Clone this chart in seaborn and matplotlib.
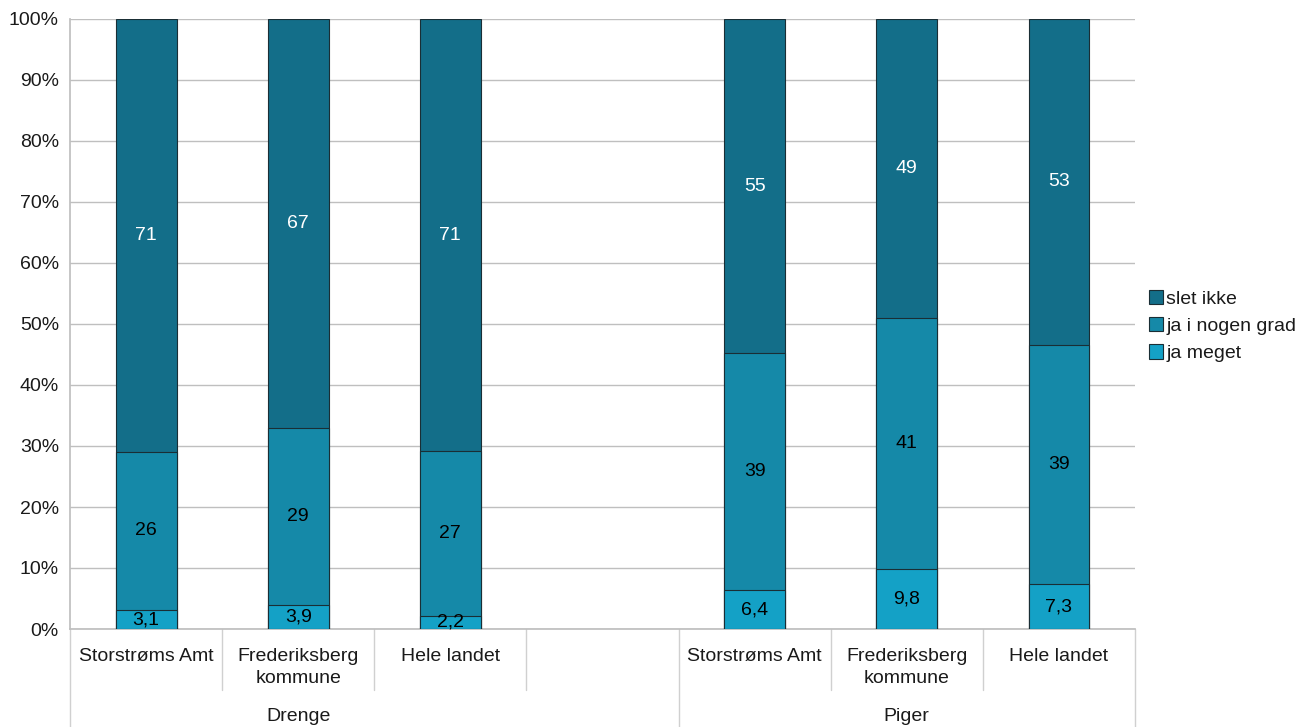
import matplotlib
matplotlib.use("Agg")
import matplotlib.pyplot as plt
from matplotlib.patches import Patch
import seaborn as sns
import pandas as pd
import numpy as np

# Survey answers by sex and area (percent)
groups = ["Drenge", "Drenge", "Drenge", "Piger", "Piger", "Piger"]
areas = ["Storstrøms Amt", "Frederiksberg\nkommune", "Hele landet",
         "Storstrøms Amt", "Frederiksberg\nkommune", "Hele landet"]
ja_meget = [3.1, 3.9, 2.2, 6.4, 9.8, 7.3]
ja_i_nogen_grad = [26, 29, 27, 39, 41, 39]
slet_ikke = [71, 67, 71, 55, 49, 53]

series_names = ["ja meget", "ja i nogen grad", "slet ikke"]
colors = ["#14A1C6", "#1589A8", "#136E89"]
label_colors = ["black", "black", "white"]
group_names = ["Drenge", "Piger"]

sns.set_theme(style="white")
plt.rcParams["font.family"] = ["Liberation Sans", "DejaVu Sans"]
FS = 14
TXT = "#1a1a1a"

# Slot order on the x axis; an empty slot separates the two groups
keys = [f"{g}|{a}" for g, a in zip(groups, areas)]
order = keys[:3] + ["_gap"] + keys[3:]

raw = np.array([ja_meget, ja_i_nogen_grad, slet_ikke], dtype=float)
pct = raw / raw.sum(axis=0) * 100
cum = np.cumsum(pct, axis=0)

fig = plt.figure(figsize=(13.1, 7.27), dpi=100)
ax = fig.add_axes([70 / 1310, 1 - 629 / 727, (1135 - 70) / 1310, 610 / 727])

# Stacked bars: draw cumulative totals from the top down so each layer shows
for i in range(2, -1, -1):
    df = pd.DataFrame({"key": keys, "value": cum[i]})
    sns.barplot(data=df, x="key", y="value", order=order, color=colors[i],
                width=0.4, edgecolor="#1a2e35", linewidth=0.8,
                saturation=1, ax=ax, zorder=3)

# Value labels at segment centres
pos = {k: order.index(k) for k in keys}
for i in range(3):
    for j, k in enumerate(keys):
        bottom = cum[i - 1][j] if i > 0 else 0
        mid = bottom + pct[i][j] / 2
        v = raw[i][j]
        txt = f"{v:.1f}".replace(".", ",") if i == 0 else f"{v:.0f}"
        ax.text(pos[k], mid, txt, ha="center", va="center",
                color=label_colors[i], fontsize=FS, zorder=5)

ax.set_xlim(-0.5, len(order) - 0.5)
ax.set_ylim(0, 100)
ax.set_yticks(np.arange(0, 101, 10))
ax.set_yticklabels([f"{t}%" for t in range(0, 101, 10)], fontsize=FS, color=TXT)
ax.tick_params(axis="y", length=0, pad=8)
ax.yaxis.grid(True, color="#BFBFBF", linewidth=1, zorder=0)
ax.set_axisbelow(True)
ax.set_xticks([])
ax.set_xlabel("")
ax.set_ylabel("")
for s in ["top", "right"]:
    ax.spines[s].set_visible(False)
ax.spines["left"].set_color("#BFBFBF")
ax.spines["bottom"].set_color("#BFBFBF")

# Hierarchical category axis below the plot
tr = ax.get_xaxis_transform()
line_kw = dict(color="#D0D0D0", linewidth=1, transform=tr, clip_on=False)
fig_bottom = -(727 - 629) / 610
for b in [0.5, 1.5, 2.5, 4.5, 5.5]:
    ax.plot([b, b], [0, -0.1], **line_kw)
for b in [-0.5, 3.5, 6.5]:
    ax.plot([b, b], [0, fig_bottom], **line_kw)
for k in keys:
    ax.text(pos[k], -0.031, k.split("|")[1], transform=tr, ha="center", va="top",
            fontsize=FS, color=TXT, linespacing=1.4)
ax.text(1, -0.143, group_names[0], transform=tr, ha="center", va="center",
        fontsize=FS, color=TXT)
ax.text(5, -0.143, group_names[1], transform=tr, ha="center", va="center",
        fontsize=FS, color=TXT)

# Legend on the right
handles = [Patch(facecolor=colors[i], edgecolor="#1a2e35", linewidth=0.8,
                 label=series_names[i]) for i in range(2, -1, -1)]
leg = fig.legend(handles=handles, loc="center left",
                 bbox_to_anchor=(1141 / 1310, 1 - 326 / 727),
                 frameon=False, fontsize=FS, handlelength=0.75, handleheight=0.75,
                 handletextpad=0.15, labelspacing=0.48, borderaxespad=0)
for t in leg.get_texts():
    t.set_color(TXT)

fig.savefig("out.png", dpi=100)
